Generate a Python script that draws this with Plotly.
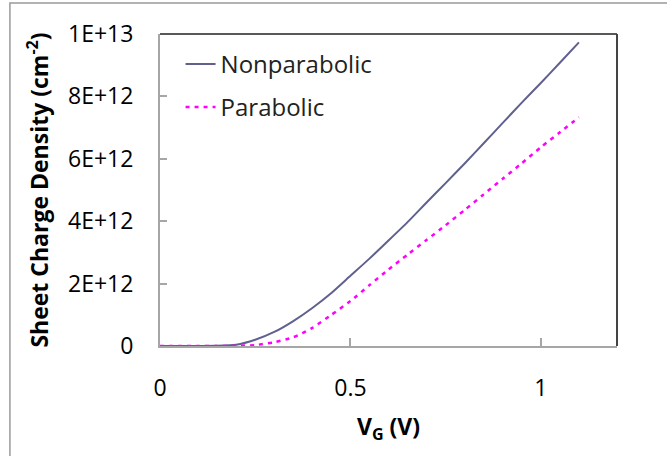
import plotly.graph_objects as go

# Gate voltage (V)
vg = [0.0, 0.05, 0.10, 0.15, 0.20, 0.25, 0.30, 0.35, 0.40, 0.45, 0.50, 0.55,
      0.60, 0.65, 0.70, 0.75, 0.80, 0.85, 0.90, 0.95, 1.00, 1.05, 1.10]

# Sheet charge density (cm^-2)
nonparabolic = [0, 0, 0, 0.005e12, 0.04e12, 0.20e12, 0.45e12, 0.80e12, 1.22e12, 1.70e12,
                2.25e12, 2.80e12, 3.38e12, 3.97e12, 4.60e12, 5.22e12, 5.85e12, 6.50e12,
                7.15e12, 7.80e12, 8.43e12, 9.08e12, 9.73e12]
parabolic = [0, 0, 0, 0, 0.005e12, 0.03e12, 0.12e12, 0.28e12, 0.58e12, 1.00e12,
             1.44e12, 1.95e12, 2.45e12, 2.93e12, 3.40e12, 3.87e12, 4.36e12, 4.86e12,
             5.36e12, 5.86e12, 6.37e12, 6.85e12, 7.33e12]

y_tickvals = [0, 2e12, 4e12, 6e12, 8e12, 1e13]
y_ticktext = ["0", "2E+12", "4E+12", "6E+12", "8E+12", "1E+13"]
x_tickvals = [0, 0.5, 1]
x_ticktext = ["0", "0.5", "1"]

FONT = "'Open Sans', Lato, sans-serif"
GRAY = "#a6a6a6"

fig = go.Figure()
fig.add_trace(go.Scatter(x=vg, y=nonparabolic, mode="lines", name="Nonparabolic",
                         legendgroup="a",
                         line=dict(color="#60608f", width=2, shape="spline", smoothing=0.6)))
fig.add_trace(go.Scatter(x=vg, y=parabolic, mode="lines", name="Parabolic",
                         legendgroup="b",
                         line=dict(color="#ff00ff", width=2.5, dash="4px,5px",
                                   shape="spline", smoothing=0.6)))

fig.update_layout(
    width=667, height=456,
    margin=dict(l=160, r=50, t=34, b=110),
    paper_bgcolor="white", plot_bgcolor="white",
    font=dict(family=FONT, size=20, color="#000000"),
    showlegend=True,
    legend=dict(x=0.045, y=0.975, xanchor="left", yanchor="top",
                bgcolor="rgba(0,0,0,0)", font=dict(size=24, color="#222222"),
                tracegroupgap=9, traceorder="grouped", itemwidth=30),
    xaxis=dict(range=[0, 1.2], tickvals=x_tickvals, ticktext=x_ticktext,
               showgrid=False, zeroline=False, showline=True, linecolor=GRAY, linewidth=2,
               ticks="inside", ticklen=8, tickcolor=GRAY, tickwidth=1.5,
               ticklabelstandoff=20, tickfont=dict(size=23),
               title=dict(text="<b>V<sub>G</sub> (V)</b>", standoff=17,
                          font=dict(size=23))),
    yaxis=dict(range=[0, 1e13], tickvals=y_tickvals, ticktext=y_ticktext,
               showgrid=False, zeroline=False, showline=True, linecolor=GRAY, linewidth=2,
               ticks="inside", ticklen=7, tickcolor=GRAY, tickwidth=1.5,
               ticklabelstandoff=20, tickfont=dict(size=23),
               title=dict(text="<b>Sheet Charge Density (cm<sup>-2</sup>)</b>", standoff=13,
                          font=dict(size=23))),
)

# plot area top and right borders (dark)
fig.add_shape(type="line", xref="paper", yref="paper", x0=0, x1=1, y0=1, y1=1,
              line=dict(color="#222222", width=1.5))
fig.add_shape(type="line", xref="paper", yref="paper", x0=1, x1=1, y0=0, y1=1,
              line=dict(color="#444444", width=2))
# outer chart-area border (left and top visible)
fig.add_shape(type="rect", xref="paper", yref="paper", x0=-0.3284, x1=1.5, y0=-0.6, y1=1.0995,
              line=dict(color="#9a9a9a", width=1.5), layer="below")

fig.write_html("out.html")
